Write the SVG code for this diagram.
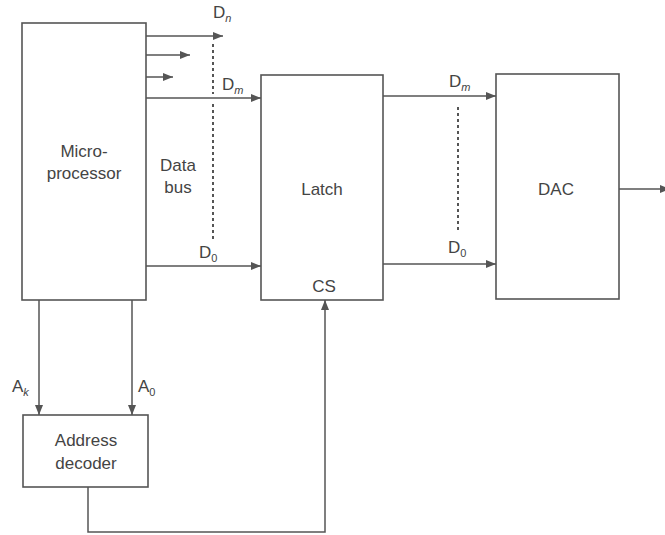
<svg xmlns="http://www.w3.org/2000/svg" width="665" height="535" viewBox="0 0 665 535">
<style>
.box{fill:#fff;stroke:#555;stroke-width:1.6}
.ln{fill:none;stroke:#555;stroke-width:1.5}
.dot{fill:none;stroke:#555;stroke-width:2;stroke-dasharray:3,3}
text{font-family:"Liberation Sans",Arial,sans-serif;fill:#444;font-size:17px}
.t{text-anchor:middle}
.sub{font-size:11px;font-style:italic}
.s0{font-size:11px}
</style>
<defs>
<marker id="ah" viewBox="0 0 10 8" refX="10" refY="4" markerWidth="10" markerHeight="8" markerUnits="userSpaceOnUse" orient="auto">
<path d="M0,0 L10,4 L0,8 Z" fill="#555"/>
</marker>
</defs>
<rect width="665" height="535" fill="#fff"/>
<g id="microprocessor"><rect class="box" x="22" y="23" width="124" height="277"/><text class="t" x="84" y="157">Micro-</text><text class="t" x="84" y="179">processor</text></g>
<g id="latch"><rect class="box" x="261" y="75" width="122" height="225"/><text class="t" x="322" y="195">Latch</text><text class="t" x="324" y="292">CS</text></g>
<g id="dac"><rect class="box" x="496" y="74" width="123" height="225"/><text class="t" x="556" y="195">DAC</text></g>
<g id="decoder"><rect class="box" x="23" y="415" width="125" height="72"/><text class="t" x="86" y="446">Address</text><text class="t" x="86" y="469">decoder</text></g>
<g id="connectors">
<line class="ln" x1="146" y1="36" x2="223" y2="36" marker-end="url(#ah)"/>
<line class="ln" x1="146" y1="55" x2="190" y2="55" marker-end="url(#ah)"/>
<line class="ln" x1="146" y1="77" x2="173" y2="77" marker-end="url(#ah)"/>
<line class="ln" x1="146" y1="98" x2="261" y2="98" marker-end="url(#ah)"/>
<line class="ln" x1="146" y1="266" x2="261" y2="266" marker-end="url(#ah)"/>
<line class="dot" x1="213" y1="44" x2="213" y2="94"/>
<line class="dot" x1="213" y1="104" x2="213" y2="240"/>
<line class="ln" x1="383" y1="96" x2="496" y2="96" marker-end="url(#ah)"/>
<line class="ln" x1="383" y1="264" x2="496" y2="264" marker-end="url(#ah)"/>
<line class="dot" x1="458" y1="107" x2="458" y2="232"/>
<line class="ln" x1="619" y1="189" x2="670" y2="189" marker-end="url(#ah)"/>
<line class="ln" x1="39" y1="300" x2="39" y2="415" marker-end="url(#ah)"/>
<line class="ln" x1="132" y1="300" x2="132" y2="415" marker-end="url(#ah)"/>
<polyline class="ln" points="88,487 88,532 325,532 325,300" marker-end="url(#ah)"/>
</g>
<g id="labels">
<text x="213" y="18">D<tspan class="sub" dy="4">n</tspan></text>
<text x="222" y="90">D<tspan class="sub" dy="4">m</tspan></text>
<text x="199" y="258">D<tspan class="s0" dy="4">0</tspan></text>
<text x="449" y="87">D<tspan class="sub" dy="4">m</tspan></text>
<text x="448" y="253">D<tspan class="s0" dy="4">0</tspan></text>
<text x="12" y="392">A<tspan class="sub" dy="4">k</tspan></text>
<text x="138" y="392">A<tspan class="s0" dy="4">0</tspan></text>
<text class="t" x="178" y="171">Data</text>
<text class="t" x="178" y="193">bus</text>
</g>
</svg>
